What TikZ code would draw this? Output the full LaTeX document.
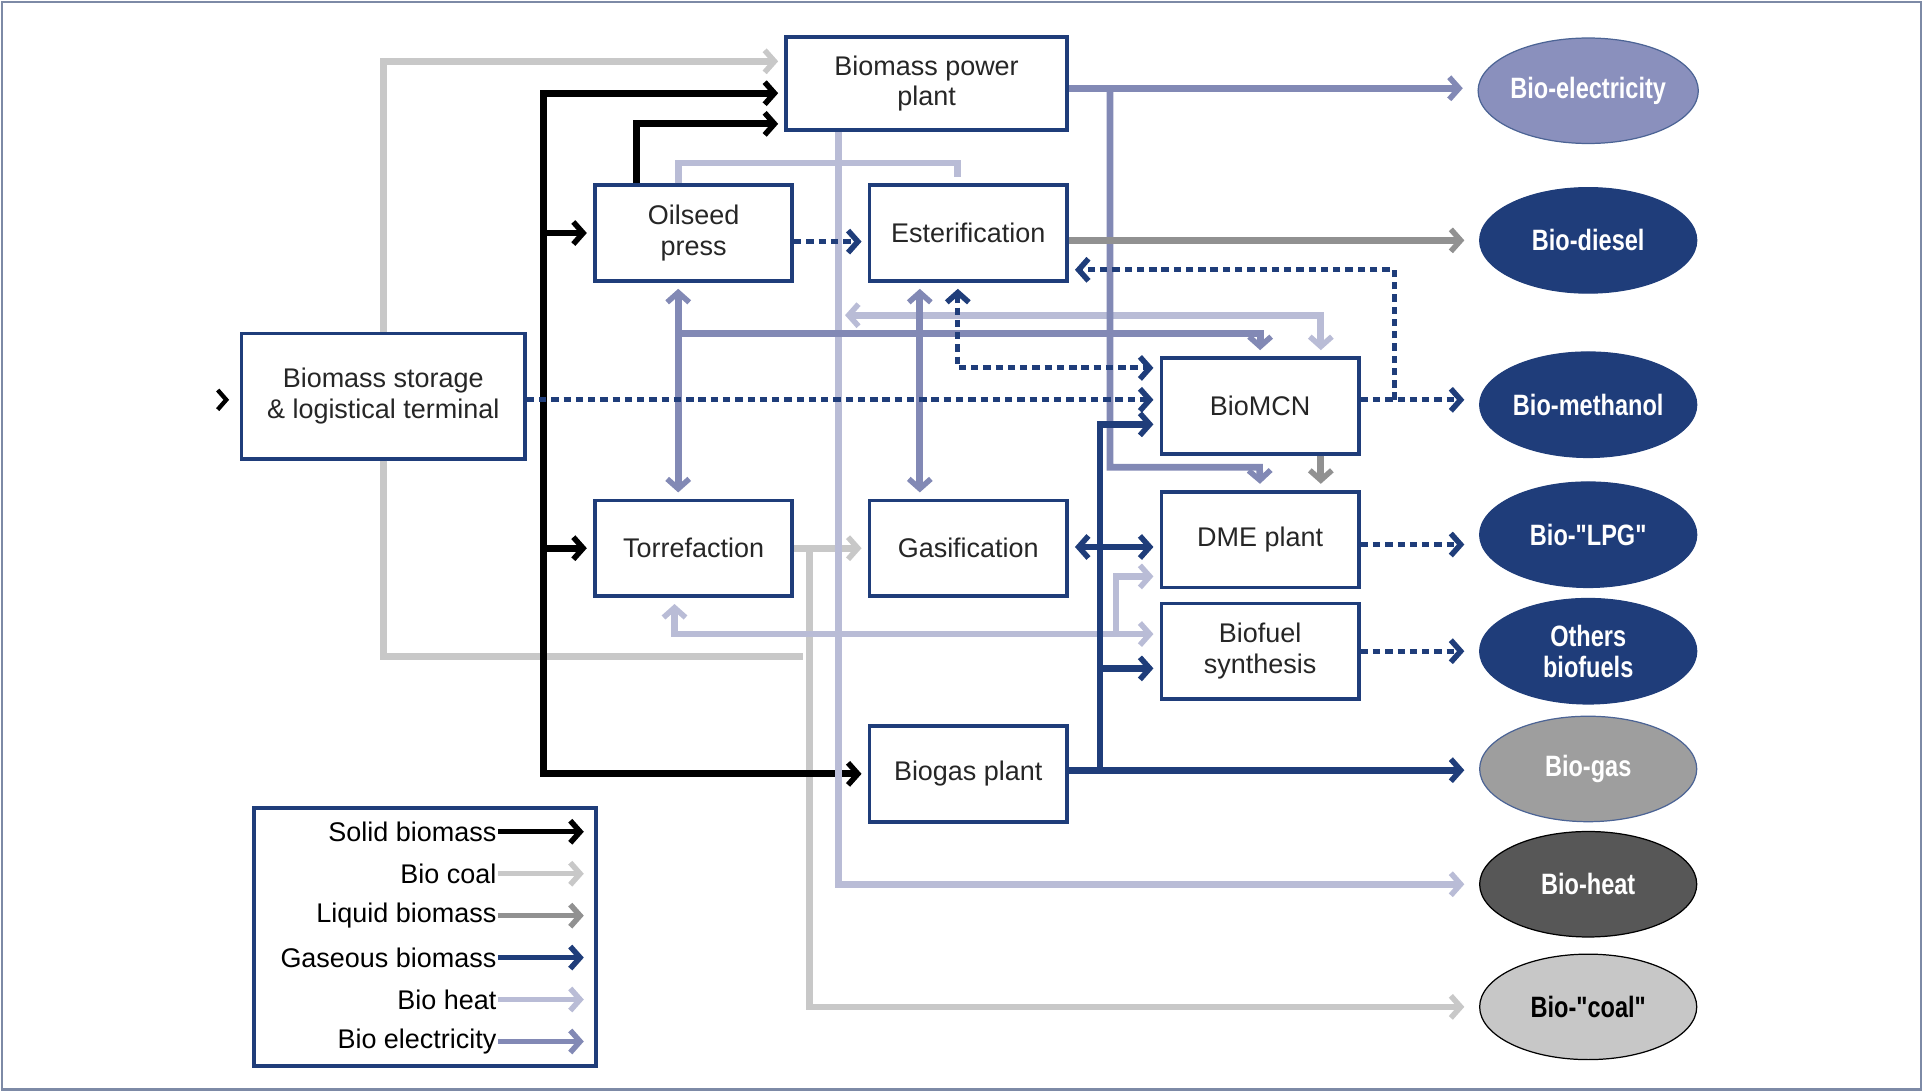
\documentclass[tikz,border=0pt]{standalone}
\usepackage{fontspec}
\setmainfont{Liberation Sans}
\newfontfamily\prodfont{Liberation Sans}[FakeStretch=0.8]
\usetikzlibrary{arrows.meta,shapes.geometric}

\definecolor{gasblue}{HTML}{1F3D7A}
\definecolor{eleclav}{HTML}{8289B5}
\definecolor{heatlav}{HTML}{B9BCD6}
\definecolor{coalgray}{HTML}{C8C8C8}
\definecolor{liqgray}{HTML}{919191}
\definecolor{elecfill}{HTML}{8A90BD}
\definecolor{framecol}{HTML}{7D8AA6}

\tikzset{
  >={Straight Barb[length=8pt,width=18pt,line width=4.5pt]},
  box/.style={draw=gasblue, line width=3pt, fill=white, minimum width=161pt,
    minimum height=78pt, align=center, text=black!85},
  product/.style={ellipse, minimum width=177pt, minimum height=86pt, inner sep=0pt,
    line width=1pt, font=\prodfont\fontsize{24}{25}\selectfont\bfseries, text=white, align=center},
  flow/.style={line width=5.5pt, shorten >=5pt},
  both/.style={<->, shorten <=5pt},
  toprod/.style={shorten >=12pt},
  solidflow/.style={flow, draw=black},
  coalflow/.style={flow, draw=coalgray},
  liqflow/.style={flow, draw=liqgray},
  heatflow/.style={flow, draw=heatlav},
  elecflow/.style={flow, draw=eleclav},
  gasflow/.style={flow, draw=gasblue},
  gasdash/.style={flow, draw=gasblue, line width=4pt, dash pattern=on 6pt off 4pt}
}

\begin{document}
\begin{tikzpicture}[x=1pt,y=-1pt,font=\fontsize{22}{25}\selectfont]
\useasboundingbox (0,0) rectangle (1568,890);
\draw[framecol,line width=2pt] (1.5,1.5) rectangle (1566.5,888.5);

% Process boxes
\node[box,minimum width=229pt,minimum height=76pt] (power) at (755.5,68) {Biomass power\\plant};
\node[box] (oil) at (565.5,190) {Oilseed\\press};
\node[box] (ester) at (789.5,190) {Esterification};
\node[box,minimum width=231pt,minimum height=102pt] (store) at (312.5,323) {Biomass storage\\\& logistical terminal};
\node[box] (mcn) at (1027.5,331) {BioMCN};
\node[box] (torr) at (565.5,447) {Torrefaction};
\node[box] (gasif) at (789.5,447) {Gasification};
\node[box] (dme) at (1027.5,440) {DME plant};
\node[box] (synth) at (1027.5,531) {Biofuel\\synthesis};
\node[box] (biogas) at (789.5,631) {Biogas plant};

% Products
\node[product,fill=elecfill,draw=gasblue!80] (pElec) at (1295,74) {Bio-electricity};
\node[product,fill=gasblue,draw=gasblue] (pDiesel) at (1295,196) {Bio-diesel};
\node[product,fill=gasblue,draw=gasblue] (pMeth) at (1295,330) {Bio-methanol};
\node[product,fill=gasblue,draw=gasblue] (pLpg) at (1295,436) {Bio-"LPG"};
\node[product,fill=gasblue,draw=gasblue] (pOther) at (1295,531) {Others\\biofuels};
\node[product,fill=black!38,draw=gasblue!80] (pGas) at (1295,627) {Bio-gas};
\node[product,fill=black!66,draw=black] (pHeat) at (1295,721) {Bio-heat};
\node[product,fill=black!22,draw=black,text=black] (pCoal) at (1295,821) {Bio-"coal"};

% Input
\draw[line width=3.5pt] (store.west |- 0,326) ++(-18,-8) -- ++(7,8) -- ++(-7,8);

% Bio coal
\draw[coalflow,->] (store.north) |- (power.west |- 0,50);
\draw[coalflow] (store.south) |- (660,535);
\coordinate (cdown) at (660,447);
\draw[coalflow,->] (torr.east) -- (gasif.west);
\draw[coalflow,->,toprod] (cdown) |- (pCoal.west);

% Solid biomass
\coordinate (strunk) at (443,76);
\draw[solidflow,both] (power.west |- strunk) -- (strunk) |- (biogas.west);
\draw[solidflow,->] (oil.west -| strunk) -- (oil.west);
\draw[solidflow,->] (torr.west -| strunk) -- (torr.west);
\draw[solidflow,->] (oil.north -| 519,0) |- (power.west |- 0,101);

% Bio heat
\coordinate (hv) at (684,257);
\draw[heatflow,->,toprod] (power.south -| hv) |- (pHeat.west);
\draw[heatflow] (oil.north -| 553,0) -- (553,133) -| (ester.north -| 781,0);
\draw[heatflow,both] (hv) -| (mcn.north -| 1077,0);
\draw[heatflow,both] (torr.south -| 550,0) |- (synth.west |- 0,517);
\draw[heatflow,->] (910,517) |- (dme.west |- 0,470);

% Bio electricity
\draw[elecflow,->,toprod] (power.east |- 0,72) -- (pElec.west |- 0,72);
\draw[elecflow,->] (905,72) |- (1027,381) -- (dme.north);
\draw[elecflow,->] (553,272) -| (mcn.north);
\draw[elecflow,both] (oil.south -| 553,0) -- (torr.north -| 553,0);
\draw[elecflow,both] (ester.south -| 750,0) -- (gasif.north -| 750,0);

% Liquid biomass
\draw[liqflow,->,toprod] (ester.east |- pDiesel.west) -- (pDiesel.west);
\draw[liqflow,->] (mcn.south -| 1077,0) -- (dme.north -| 1077,0);

% Gaseous biomass
\draw[gasdash,->] (oil.east |- 0,197) -- (ester.west |- 0,197);
\draw[gasdash,->] (store.east |- 0,326) -- (mcn.west |- 0,326);
\draw[gasdash,both] (ester.south -| 781,0) |- (mcn.west |- 0,300);
\draw[gasdash,->,toprod] (mcn.east |- 0,326) -- (pMeth.west |- 0,326);
\draw[gasdash,->] (1137,326) |- (ester.east |- 0,220);
\draw[gasdash,->,toprod] (dme.east |- 0,444) -- (pLpg.west |- 0,444);
\draw[gasdash,->,toprod] (synth.east |- 0,531) -- (pOther.west |- 0,531);
\draw[gasflow,->,toprod] (biogas.east |- 0,628) -- (pGas.west |- 0,628);
\draw[gasflow,->] (897,628) |- (mcn.west |- 0,346);
\draw[gasflow,both] (gasif.east |- 0,446) -- (dme.west |- 0,446);
\draw[gasflow,->] (897,545) -- (synth.west |- 0,545);

% Legend
\node[box,minimum width=279pt,minimum height=210pt] (legend) at (346.5,764) {};
\foreach \t/\c [count=\i] in {Solid biomass/black, Bio coal/coalgray, Liquid biomass/liqgray,
    Gaseous biomass/gasblue, Bio heat/heatlav, Bio electricity/eleclav}
{
  \node[anchor=east,inner sep=1pt] (leg\i) at (406,644+34.2*\i) {\t};
  \draw[line width=4pt,draw=\c,->] (leg\i.east) -- ++(70,0);
}

\end{tikzpicture}
\end{document}
